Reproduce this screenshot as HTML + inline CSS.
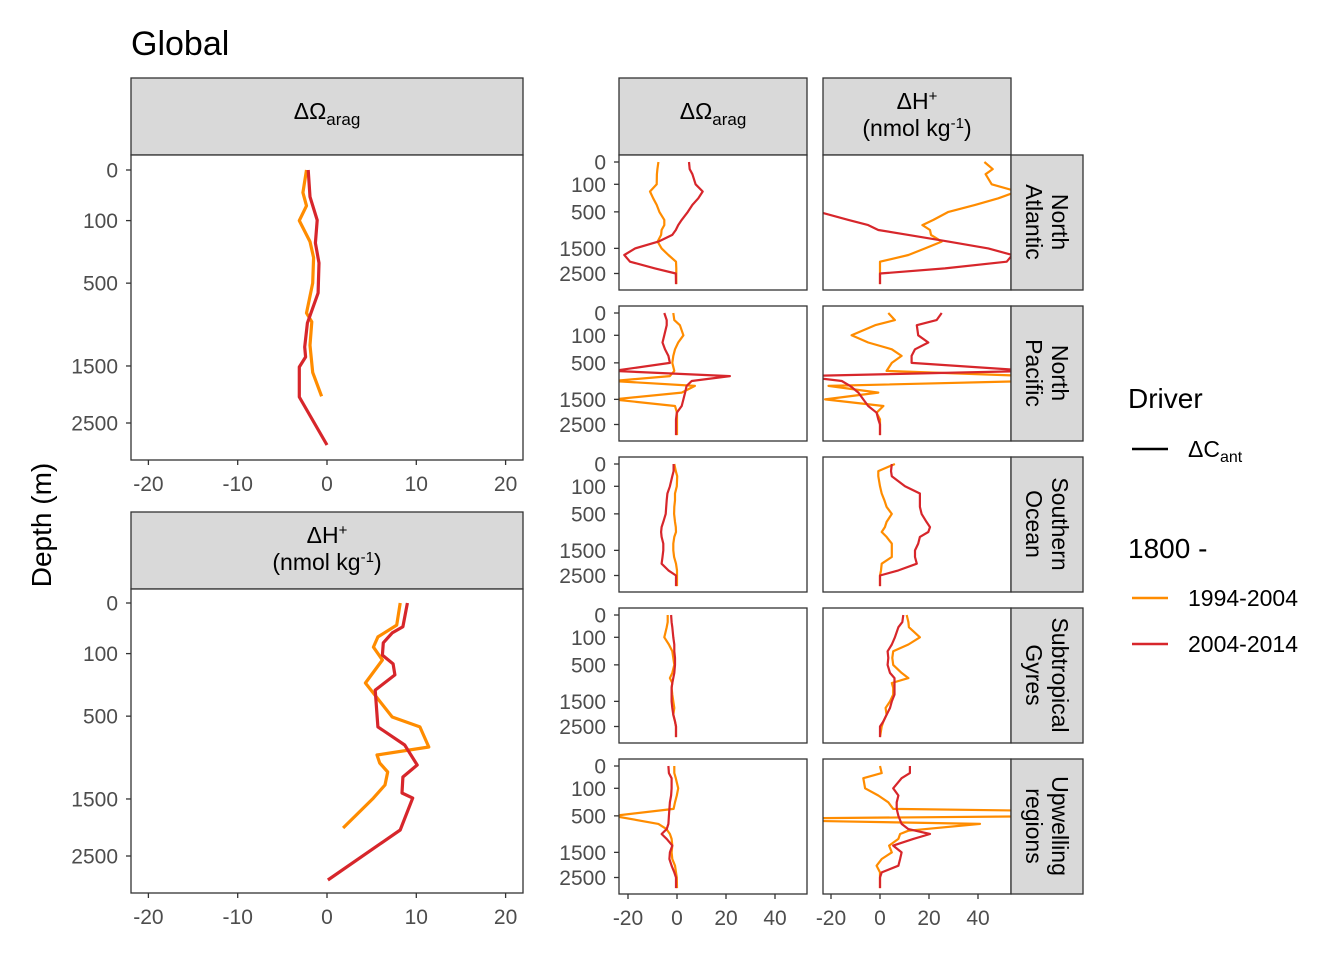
<!DOCTYPE html>
<html><head><meta charset="utf-8"><style>
html,body{margin:0;padding:0;background:#fff;}
svg{display:block;font-family:"Liberation Sans",sans-serif;}
</style></head><body>
<svg id="chart" width="1344" height="960" viewBox="0 0 1344 960" xmlns="http://www.w3.org/2000/svg">
<text x="131" y="55" font-size="34" fill="#000">Global</text>
<text transform="translate(51,525) rotate(-90)" text-anchor="middle" font-size="28" fill="#000">Depth (m)</text>
<g id="panels"></g>
<g>
<text x="1128" y="408" font-size="28">Driver</text>
<line x1="1132" y1="449" x2="1168" y2="449" stroke="#000" stroke-width="2.5"/>
<text x="1188" y="457" font-size="23">ΔC<tspan font-size="16" dy="5">ant</tspan></text>
<text x="1128" y="558" font-size="28">1800 -</text>
<line x1="1132" y1="598" x2="1168" y2="598" stroke="#FF8C00" stroke-width="2.5"/>
<text x="1188" y="606" font-size="23">1994-2004</text>
<line x1="1132" y1="644" x2="1168" y2="644" stroke="#D7262B" stroke-width="2.5"/>
<text x="1188" y="652" font-size="23">2004-2014</text>
</g>
</svg>
<script>
const NS="http://www.w3.org/2000/svg";
const ORANGE="#FF8C00", RED="#D7262B";
// ---- Global panel data ----
const gOmega94Depth=[0,20,50,100,200,300,500,800,900,1200,1600,2000];
const gOmega94Val=[-2.3,-2.7,-2.3,-3.1,-1.9,-1.5,-1.6,-2.3,-1.7,-1.9,-1.6,-0.6];
const gOmega04Depth=[0,28,98,208,338,591,914,1224,1366,1516,2013,2953];
const gOmega04Val=[-2.1,-1.9,-1.1,-1.3,-0.9,-1.0,-2.2,-2.5,-2.4,-3.1,-3.1,0];
const gH94Depth=[0,19,45,76,127,250,508,600,810,902,1000,1115,1294,1486,1977];
const gH94Val=[8.2,7.8,5.7,5.2,6.2,4.3,7.3,10.4,11.4,5.6,5.9,6.8,6.5,5.2,1.8];
const gH04Depth=[0,22,35,62,106,145,202,296,600,788,1025,1182,1410,1486,2012,2997];
const gH04Val=[9.0,8.5,7.3,6.3,6.2,7.4,7.6,5.4,5.7,8.7,10.1,8.5,8.4,9.6,8.2,0.1];
const globalTicksX=[-20,-10,0,10,20];
const depthTicks=[0,100,500,1500,2500];
// ---- Regional panel data ----
const smallDepths=[0,10,30,100,175,265,370,500,675,800,930,1070,1275,1500,1740,2000,2275,2500,3000];
const naOmega94=[-7.6,-8.0,-8.2,-8.3,-11,-9.7,-8.3,-7.2,-5.2,-5.2,-6.3,-6.5,-7.9,-6.3,-3.5,-0.4,-0.3,-0.3,-0.3];
const naOmega04=[4.9,5.2,6.3,7.6,10.5,8.7,6.3,4.4,1.9,0.5,-0.5,-1.9,-7.6,-17.1,-21.5,-19.2,-9.0,-0.5,-0.4];
const naH94=[42.6,46,43.1,45.6,56,48.3,38.8,27.9,21.8,17.3,20.4,20.8,25.2,18.4,11.6,0,0,0,0];
const naH04=[-60,-60,-60,-60,-60,-60,-60,-25,-12.9,-4.8,-0.7,11.6,27.9,44.2,54,51.7,26.5,0,0];
const npOmega94=[-1.5,-1.1,1.2,2.6,0.5,-0.8,-1.5,-1.9,-1.1,-2.9,-26,7.3,1.9,-26,-0.8,0,0,0,0];
const npOmega04=[-5.2,-4.2,-4.2,-5.2,-5.9,-4.9,-3.5,-2.9,-26,21.6,6,3.9,3.3,2.6,1.9,-0.1,-0.4,-0.4,-0.4];
const npH94=[3.4,6.1,-2.0,-11.6,-4.8,4.8,8.8,4.8,2.7,62,62,-21,-0.7,-22.4,1.4,-1.4,0,0,0];
const npH04=[25.2,23.1,15,15.6,19.7,14.3,12.9,12.9,62,-32,-15.6,-12.2,-8.8,-6.8,-4.8,-1.4,-0.7,0,0];
const soOmega94=[-1.1,-0.5,0.1,-0.1,-0.8,-0.8,-1.1,-1.2,-0.8,-0.5,-0.4,-1.1,-1.5,-1.5,-1.2,-0.4,0,0,0];
const soOmega04=[-1.4,-1.4,-1.9,-2.9,-3.9,-4.2,-4.4,-4.6,-5.6,-6.3,-6.5,-6.3,-5.6,-5.6,-5.9,-6.3,-3.5,-0.4,-0.4];
const soH94=[6.1,-0.7,-0.7,0,0.7,1.8,2.7,4.8,2.7,2.0,0.7,2.7,4.8,4.8,4.8,0.7,0.4,0,0];
const soH04=[4.8,4.5,4.8,10.2,16.3,16.3,16.3,17,19,20.4,19.7,16.3,15.6,14.3,14.3,15,7.5,0,0];
const sgOmega94=[-3.8,-3.8,-4.2,-5.2,-3.3,-1.9,-1.5,-1.1,-1.9,-2.9,-1.9,-2.2,-1.9,-1.5,-1.1,-1.5,-0.8,-0.4,-0.4];
const sgOmega04=[-2.4,-2.2,-1.9,-1.5,-1.1,-1.1,-0.8,-0.8,-1.1,-1.5,-1.9,-2.2,-2.2,-2.2,-1.9,-1.5,-0.8,-0.4,-0.4];
const sgH94=[10.9,11.6,11.8,16.3,11.6,5.4,5.0,5.4,8.8,11.6,4.8,5.4,5.4,4.1,2.3,2.7,1.4,0.7,0];
const sgH04=[9.5,9.1,7.5,6.1,4.8,3.1,3.4,3.1,4.1,5.9,5.9,5.9,5.9,4.8,4.1,2.7,1.4,0,0];
const upOmega94=[-1.1,-1.1,-0.5,0.5,-0.1,-0.8,-1.4,-26,-7.6,-4.3,-2.9,-2.2,-1.9,-2.2,-1.9,-0.8,-0.4,-0.1,0];
const upOmega04=[-3.5,-3.3,-2.2,-2.2,-2.4,-2.9,-3.1,-3.3,-3.5,-4.2,-6.3,-4.2,-1.9,-2.9,-3.1,-2.2,-1.1,-0.4,-0.4];
const upH94Depth=[0,10,30,100,175,265,370,401,509,551,601,675,841,930,1070,1275,1500,1740,2000,2275,2500,3000];
const upH94=[0,0.7,-6.8,-6.1,-0.7,3.4,5.4,62,62,-32,-32,40.8,11.6,8.2,7.5,3.7,4.8,0.7,-1.4,0,0,0];
const upH04=[12.2,12.2,8.8,5.4,7.5,6.8,6.8,7.5,8.8,11.6,20.4,13.6,5.4,8.8,8.2,7.5,0.7,0,0];
const regionNames=[["North","Atlantic"],["North","Pacific"],["Southern","Ocean"],["Subtropical","Gyres"],["Upwelling","regions"]];
const smallTicksX=[-20,0,20,40];

const root=document.getElementById('panels');
let clipId=0;
function mk(tag,attrs,parent){const e=document.createElementNS(NS,tag);for(const k in attrs)e.setAttribute(k,attrs[k]);(parent||root).appendChild(e);return e;}
function txt(parent,x,y,s,size,anchor,fill){const t=mk('text',{x:x,y:y,'font-size':size,'text-anchor':anchor||'start',fill:fill||'#000'},parent);t.textContent=s;return t;}

function panel(name,x0,y0,w,h,xs,ys,series,lw){
  const g=mk('g',{});
  
  
  const r=mk('rect',{x:x0,y:y0,width:w,height:h,fill:'#fff'},g);
  
  
  const id='clip'+(clipId++);
  const cp=mk('clipPath',{id:id},g);mk('rect',{x:x0,y:y0,width:w,height:h},cp);
  const lg=mk('g',{'clip-path':'url(#'+id+')'},g);
  series.forEach(s=>{
    const pts=s.d.map((d,i)=>xs(s.v[i]).toFixed(1)+','+ys(d).toFixed(1)).join(' ');
    const pl=mk('polyline',{points:pts,fill:'none',stroke:s.c,'stroke-width':lw,'stroke-linejoin':'round'},lg);
    
    
  });
  const b=mk('rect',{x:x0,y:y0,width:w,height:h,fill:'none',stroke:'#333','stroke-width':1.3},g);
  
  
  return g;
}
function yTicks(g,x0,ys,size){
  depthTicks.forEach(d=>{
    const y=ys(d);
    mk('line',{x1:x0-5,y1:y,x2:x0,y2:y,stroke:'#333','stroke-width':1.3},g);
    const t=txt(g,x0-13,y+size*0.36,String(d),size,'end','#4D4D4D');
    
    
  });
}
function xTicks(g,ticks,xs,yb,size){
  ticks.forEach(v=>{
    const x=xs(v);
    mk('line',{x1:x,y1:yb,x2:x,y2:yb+5,stroke:'#333','stroke-width':1.3},g);
    const t=txt(g,x,yb+31,String(v),size,'middle','#4D4D4D');
    
    
  });
}
function strip(name,x,y,w,h){
  const r=mk('rect',{x:x,y:y,width:w,height:h,fill:'#D9D9D9',stroke:'#333','stroke-width':1.3});
  
  
}
function omegaLabel(cx,cy){
  const t=mk('text',{x:cx,y:cy,'font-size':23,'text-anchor':'middle'});
  
  
  t.innerHTML='ΔΩ<tspan font-size="17" dy="6">arag</tspan>';
}
function hLabel(cx,cy){
  const t=mk('text',{x:cx,y:cy,'font-size':23,'text-anchor':'middle'});
  
  
  t.innerHTML='ΔH<tspan font-size="15" dy="-8">+</tspan>';
  const t2=mk('text',{x:cx,y:cy+27,'font-size':23,'text-anchor':'middle'});
  
  
  t2.innerHTML='(nmol kg<tspan font-size="15" dy="-8">-1</tspan><tspan dy="8">)</tspan>';
}

// ---- Global panels ----
const gx=v=>327+v*8.93;
const gyTop=d=>170+Math.sqrt(d)*5.06;
const gyBot=d=>603+Math.sqrt(d)*5.06;
strip('strip-global-omega',131,78,392,77);omegaLabel(327,119);
let gp=panel('panel-global-omega',131,155,392,305,gx,gyTop,[
 {d:gOmega94Depth,v:gOmega94Val,c:ORANGE,n:'line-global-omega-1994'},
 {d:gOmega04Depth,v:gOmega04Val,c:RED,n:'line-global-omega-2004'}],3.2);
yTicks(gp,131,gyTop,21);xTicks(gp,globalTicksX,gx,460,21);
strip('strip-global-hplus',131,512,392,77);hLabel(327,543);
gp=panel('panel-global-hplus',131,589,392,304,gx,gyBot,[
 {d:gH94Depth,v:gH94Val,c:ORANGE,n:'line-global-hplus-1994'},
 {d:gH04Depth,v:gH04Val,c:RED,n:'line-global-hplus-2004'}],3.2);
yTicks(gp,131,gyBot,21);xTicks(gp,globalTicksX,gx,893,21);

// ---- Regional panels ----
strip('strip-regional-omega',619,78,188,77);omegaLabel(713,119);
strip('strip-regional-hplus',823,78,188,77);hLabel(917,109);
const rows=[
 ['north-atlantic',naOmega94,naOmega04,naH94,naH04,smallDepths],
 ['north-pacific',npOmega94,npOmega04,npH94,npH04,smallDepths],
 ['southern-ocean',soOmega94,soOmega04,soH94,soH04,smallDepths],
 ['subtropical-gyres',sgOmega94,sgOmega04,sgH94,sgH04,smallDepths],
 ['upwelling-regions',upOmega94,upOmega04,upH94,upH04,upH94Depth]];
const rowTops=[155,306,457,608,759];
rows.forEach((r,i)=>{
  const top=rowTops[i];
  const ys=d=>top+7+Math.sqrt(d)*2.23;
  const x1=v=>677+v*2.45, x2=v=>880+v*2.45;
  const p1=panel('panel-'+r[0]+'-omega',619,top,188,135,x1,ys,[
    {d:smallDepths,v:r[1],c:ORANGE,n:'line-'+r[0]+'-omega-1994'},
    {d:smallDepths,v:r[2],c:RED,n:'line-'+r[0]+'-omega-2004'}],2.2);
  yTicks(p1,619,ys,21);
  const p2=panel('panel-'+r[0]+'-hplus',823,top,188,135,x2,ys,[
    {d:r[5],v:r[3],c:ORANGE,n:'line-'+r[0]+'-hplus-1994'},
    {d:smallDepths,v:r[4],c:RED,n:'line-'+r[0]+'-hplus-2004'}],2.2);
  if(i===4){xTicks(p1,smallTicksX,x1,top+135,21);xTicks(p2,smallTicksX,x2,top+135,21);}
  strip('strip-'+r[0],1011,top,72,135);
  const cy=top+67;
  const t=mk('text',{transform:'translate(1011,'+cy+') rotate(90)','font-size':23,'text-anchor':'middle'});
  
  
  t.innerHTML='<tspan x="0" y="-41">'+regionNames[i][0]+'</tspan><tspan x="0" y="-15">'+regionNames[i][1]+'</tspan>';
});
</script>
</body></html>
